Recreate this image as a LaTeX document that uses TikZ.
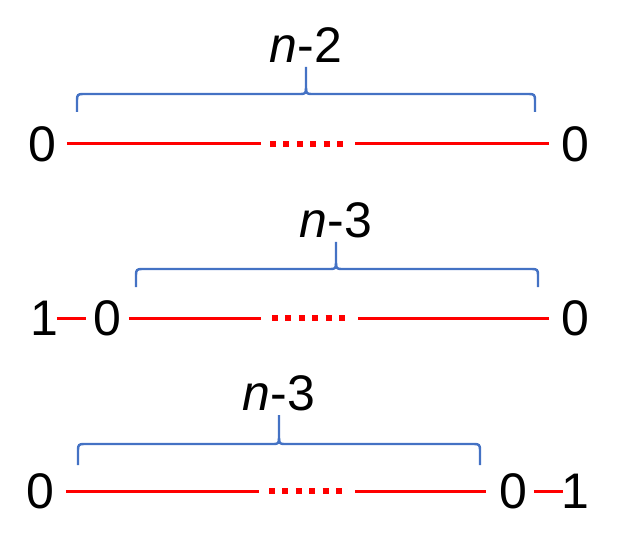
\documentclass[tikz,border=0pt]{standalone}
\usepackage{fontspec}
\setmainfont{Liberation Sans}
\usetikzlibrary{positioning}
\definecolor{bracecol}{RGB}{68,114,196}
\tikzset{
digit/.style={inner sep=0pt,outer sep=0pt,font=\fontsize{25}{30}\selectfont},
wire/.style={red,line width=1.5pt},
gap/.style={red,line width=3pt,dash pattern=on 3pt off 3.7pt},
brace/.style={draw=bracecol,line width=1.2pt},
}
\begin{document}
\begin{tikzpicture}
[x=0.5pt,y=0.5pt]
\useasboundingbox (0,0) rectangle (624,546);

% first row
\node[digit] (a0) at (42,402) {0};
\node[digit] (a9) at (575,402) {0};
\coordinate (s1) at (261,402);
\coordinate (r1) at (355,402);
\draw[wire,shorten <=5.5pt] (a0) -- (s1);
\draw[gap,shorten <=4.5pt,shorten >=6pt] (s1) -- (r1);
\draw[wire,shorten >=6pt] (r1) -- (a9);

% second row
\node[digit] (b1) at (44,228) {1};
\node[digit] (b0) at (107,228) {0};
\node[digit] (b9) at (575,228) {0};
\coordinate (s2) at (261,228);
\coordinate (r2) at (358,228);
\draw[wire,shorten <=-0.5pt,shorten >=3.5pt] (b1) -- (b0);
\draw[wire,shorten <=4pt] (b0) -- (s2);
\draw[gap,shorten <=5.5pt,shorten >=5.5pt] (s2) -- (r2);
\draw[wire,shorten >=6pt] (r2) -- (b9);

% third row
\node[digit] (c0) at (40,55) {0};
\node[digit] (c8) at (513,55) {0};
\node[digit] (c9) at (575,55) {1};
\coordinate (s3) at (259,55);
\coordinate (r3) at (355,55);
\draw[wire,shorten <=6pt] (c0) -- (s3);
\draw[gap,shorten <=5pt,shorten >=6pt] (s3) -- (r3);
\draw[wire,shorten >=6.5pt] (r3) -- (c8);
\draw[wire,shorten <=3.5pt,shorten >=-1pt] (c8) -- (c9);

% braces
\foreach \xa/\xb/\xt/\yb/\yh/\yt/\nm in {77/535/306/434/452/479/1,136/538/336/259/277/304/2,78/480/279/81/102/131/3}{
\draw[brace] (\xa,\yb) -- (\xa,\yh-6) .. controls (\xa,\yh-1) and (\xa+1,\yh) .. (\xa+6,\yh) -- (\xt-5,\yh) .. controls (\xt-1,\yh) and (\xt,\yh+1) .. (\xt,\yh+6) -- (\xt,\yt);
\draw[brace] (\xt,\yh+6) .. controls (\xt,\yh+1) and (\xt+1,\yh) .. (\xt+5,\yh) -- (\xb-6,\yh) .. controls (\xb-1,\yh) and (\xb,\yh-1) .. (\xb,\yh-6) -- (\xb,\yb);
\coordinate (tip\nm) at (\xt,\yt);
}

\node[digit,above=2pt of tip1] (k1) {{\itshape n}-2};
\node[digit,above=2pt of tip2] (k2) {{\itshape n}-3};
\node[digit,above=2pt of tip3] (k3) {{\itshape n}-3};
\end{tikzpicture}
\end{document}
